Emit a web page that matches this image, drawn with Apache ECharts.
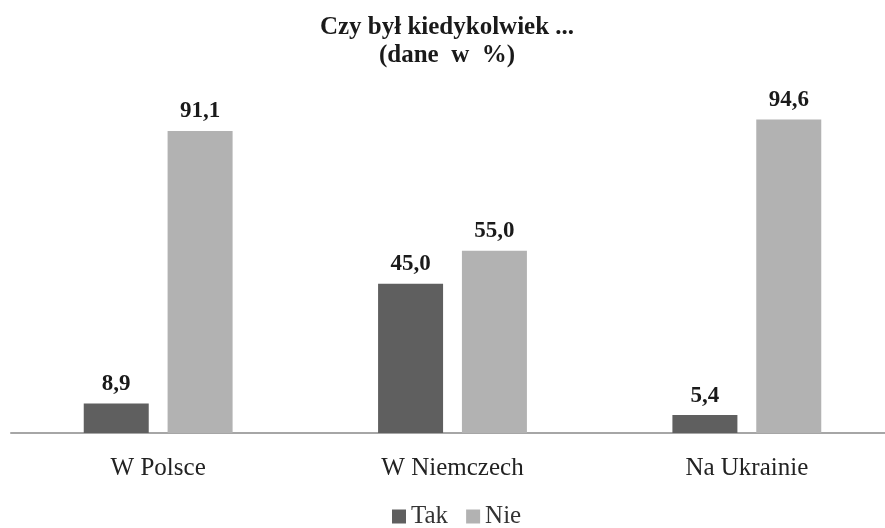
<!DOCTYPE html>
<html>
<head>
<meta charset="utf-8">
<script src="https://cdn.jsdelivr.net/npm/echarts@6/dist/echarts.min.js"></script>
<style>html,body{margin:0;padding:0;background:#fff;overflow:hidden}#c{width:894px;height:528px}</style>
</head>
<body>
<div id="c"></div>
<script>
const categories = ['W Polsce', 'W Niemczech', 'Na Ukrainie'];
const seriesNames = ['Tak', 'Nie'];
const takValues = [8.9, 45.0, 5.4];
const nieValues = [91.1, 55.0, 94.6];
const titleText = 'Czy był kiedykolwiek ...\n(dane  w  %)';

const fontFam = '"Liberation Serif", "Times New Roman", serif';
const fmt = p => p.value.toFixed(1).replace('.', ',');
const labelCfg = {
  show: true, position: 'top', distance: 8, formatter: fmt,
  fontFamily: fontFam, fontWeight: 'bold', fontSize: 23, color: '#1a1a1a'
};

const chart = echarts.init(document.getElementById('c'), null, {renderer: 'canvas'});
chart.setOption({
  animation: false,
  backgroundColor: '#ffffff',
  title: {
    text: titleText, left: 'center', top: 9,
    textStyle: { fontFamily: fontFam, fontWeight: 'bold', fontSize: 25, lineHeight: 28, color: '#1a1a1a' }
  },
  legend: {
    data: seriesNames, bottom: -6, left: 387,
    itemWidth: 14, itemHeight: 14, itemGap: 18,
    icon: 'rect',
    textStyle: { fontFamily: fontFam, fontSize: 25, color: '#333' }
  },
  grid: { left: 11, right: 0, top: 101.5, bottom: 95, containLabel: false },
  xAxis: {
    type: 'category', data: categories,
    axisLine: { show: true, lineStyle: { color: '#a6a6a6', width: 2 } },
    axisTick: { show: false },
    axisLabel: { margin: 23, fontFamily: fontFam, fontSize: 25, color: '#222' }
  },
  yAxis: { type: 'value', min: 0, max: 100, show: false, splitLine: { show: false } },
  series: [
    { name: seriesNames[0], type: 'bar', data: takValues, barWidth: 65, barGap: '29%',
      itemStyle: { color: '#5f5f5f' }, label: labelCfg },
    { name: seriesNames[1], type: 'bar', data: nieValues, barWidth: 65, barGap: '29%',
      itemStyle: { color: '#b2b2b2' }, label: labelCfg }
  ]
});
</script>
</body>
</html>
